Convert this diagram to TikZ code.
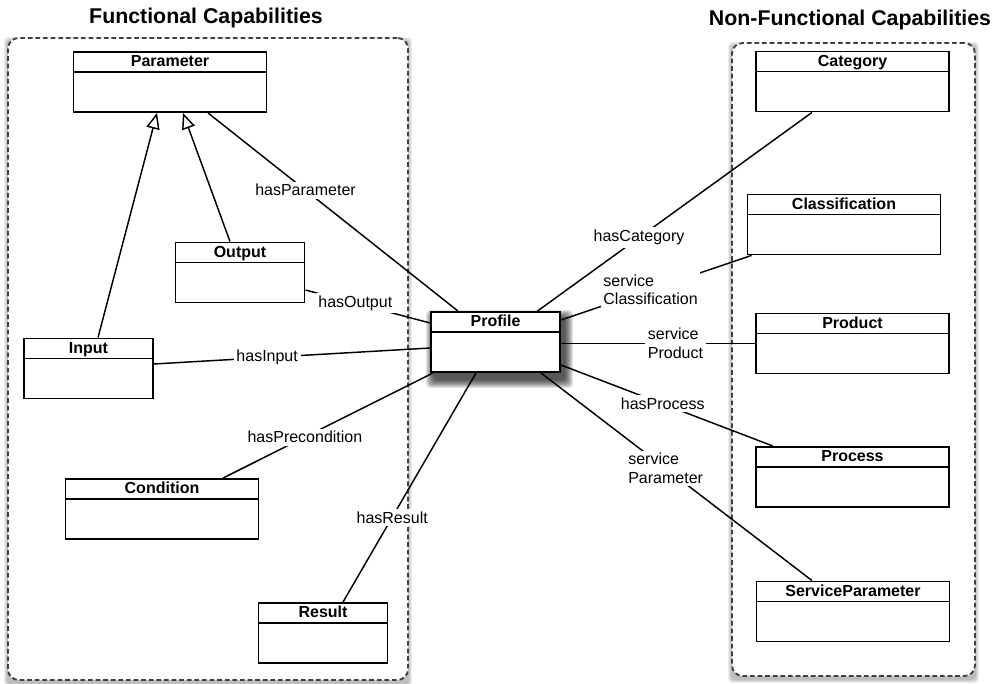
\documentclass[tikz,border=0pt]{standalone}
\usepackage{fontspec}
\setmainfont{Liberation Sans}
\usetikzlibrary{arrows.meta}
\pgfdeclarelayer{bg}
\pgfsetlayers{bg,main}

\newcommand\boxfont{\fontsize{12}{14}\selectfont\bfseries}
\newcommand\labfont{\fontsize{12}{14}\selectfont}
\newcommand\headfont{\fontsize{16}{19}\selectfont\bfseries}

% soft shadow behind a node: node name, x offset, y offset, spread steps, opacity
\newcommand\softshadow[5]{%
  \begin{pgfonlayer}{bg}
    \foreach \k in {0,...,#4}{
      \fill[black, opacity=#5, rounded corners=3pt]
        ([shift={(#2-\k,#3-\k)}]#1.north west) rectangle ([shift={(#2+\k,#3+\k)}]#1.south east);
    }
  \end{pgfonlayer}}

\begin{document}
\begin{tikzpicture}[x=0.75pt,y=-0.75pt,
  umlbox/.style={draw=black, line width=1.4pt, fill=white, minimum height=45pt, inner sep=0pt,
    path picture={\draw[line width=1.4pt]
      ([yshift=-15pt]path picture bounding box.north west) --
      ([yshift=-15pt]path picture bounding box.north east);},
    label={[anchor=base, yshift=-11.8pt, font=\boxfont, inner sep=0pt]north:#1}},
  wide/.style={minimum width=144.75pt},
  narrow/.style={minimum width=96.75pt},
  group/.style={draw=black!75, line width=1.4pt, dash pattern=on 3.5pt off 2.2pt,
    rounded corners=8pt, inner sep=0pt, fill=white},
  assoc/.style={line width=1.1pt},
  gen/.style={line width=1.1pt, -{Triangle[open, length=12pt, width=10pt, line width=1.1pt]}},
  rolelabel/.style={fill=white, font=\labfont, inner sep=2pt, align=left},
  heading/.style={font=\headfont},
]
\useasboundingbox (0,0) rectangle (1002,684);

% group headings
\node[heading] (fchead) at (206,18) {Functional Capabilities};
\node[heading] (nfchead) at (850,20) {Non-Functional Capabilities};

% dashed group frames
\node[group, minimum width=300pt, minimum height=481.5pt] (fc) at (208,359) {};
\node[group, minimum width=182.25pt, minimum height=474.75pt] (nfc) at (853.5,359.5) {};
\softshadow{fc}{0}{3}{3}{0.07}
\softshadow{nfc}{0}{3}{3}{0.07}

% functional classes
\node[umlbox=Parameter, wide] (param) at (170,82) {};
\node[umlbox=Output, narrow] (output) at (240,272.5) {};
\node[umlbox=Input, narrow] (input) at (88.5,368.5) {};
\node[umlbox=Condition, wide] (cond) at (162,509) {};
\node[umlbox=Result, narrow] (result) at (323,633) {};

% central class
\node[umlbox=Profile, narrow] (profile) at (495.5,342) {};
\softshadow{profile}{4}{7}{8}{0.11}

% non-functional classes
\node[umlbox=Category, wide] (cat) at (852.5,81.5) {};
\node[umlbox=Classification, wide] (class) at (844,224.5) {};
\node[umlbox=Product, wide] (product) at (852.5,343.5) {};
\node[umlbox=Process, wide] (process) at (852.5,477) {};
\node[umlbox=ServiceParameter, wide] (sparam) at (853,611.5) {};

% generalisations
\draw[gen] ([shift={(9.5,0)}]input.north) -- ([shift={(-13,0)}]param.south);
\draw[gen] ([shift={(-10,0)}]output.north) -- ([shift={(13,0)}]param.south);

% functional associations
\draw[assoc] ([shift={(38,0)}]param.south) -- node[rolelabel, pos=0.39] {hasParameter}
  ([shift={(-37.5,0)}]profile.north);
\draw[assoc] ([shift={(0,17.5)}]output.east) -- node[rolelabel, pos=0.4] {hasOutput}
  ([shift={(0,-19)}]profile.west);
\draw[assoc] ([shift={(0,-4.5)}]input.east) -- node[rolelabel, pos=0.41] {hasInput}
  ([shift={(0,6)}]profile.west);
\draw[assoc] ([shift={(61,0)}]cond.north) -- node[rolelabel, pos=0.39] {hasPrecondition}
  ([shift={(3,0)}]profile.south west);
\draw[assoc] ([shift={(20,0)}]result.north) -- node[rolelabel, pos=0.37] {hasResult}
  ([shift={(-19.5,0)}]profile.south);

% non-functional associations
\draw[assoc] ([shift={(-23.5,0)}]profile.north east) -- node[rolelabel, pos=0.37] {hasCategory}
  ([shift={(-40.5,0)}]cat.south);
\draw[assoc] ([shift={(0,-22)}]profile.east) -- node[rolelabel, pos=0.47] {service\\Classification}
  ([shift={(5,0)}]class.south west);
\draw[assoc] ([shift={(0,1.5)}]profile.east) -- node[rolelabel, pos=0.59] {service\\Product}
  (product.west);
\draw[assoc] ([shift={(0,23)}]profile.east) -- node[rolelabel, pos=0.48] {hasProcess}
  ([shift={(-79.5,0)}]process.north);
\draw[assoc] ([shift={(-20,0)}]profile.south east) -- node[rolelabel, pos=0.46] {service\\Parameter}
  ([shift={(-41,0)}]sparam.north);
\end{tikzpicture}
\end{document}
